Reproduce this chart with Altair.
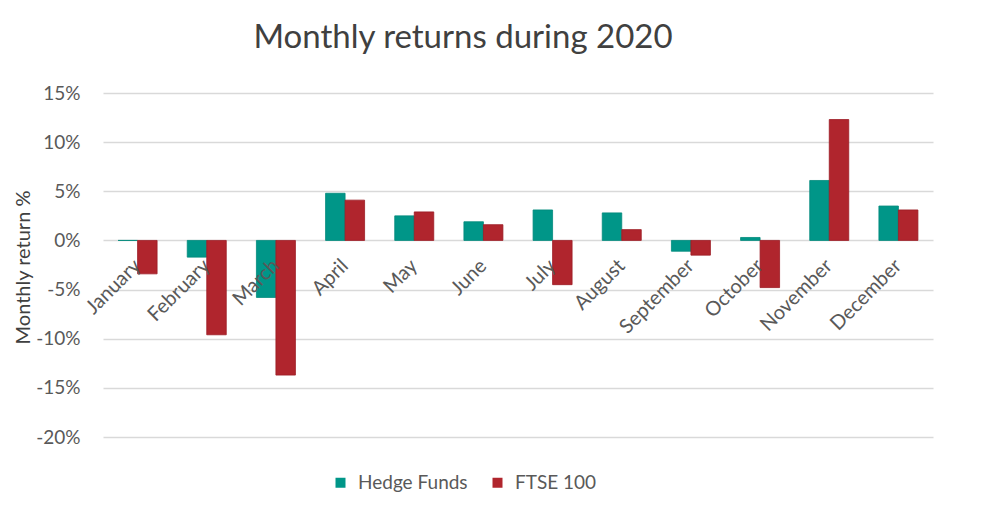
import altair as alt
import pandas as pd

months = ["January", "February", "March", "April", "May", "June", "July",
          "August", "September", "October", "November", "December"]
hedge_funds = [0.0, -1.7, -5.8, 4.8, 2.5, 1.9, 3.1, 2.8, -1.1, 0.3, 6.1, 3.5]
ftse_100 = [-3.4, -9.6, -13.7, 4.1, 2.9, 1.6, -4.5, 1.1, -1.5, -4.8, 12.3, 3.1]
series = ["Hedge Funds", "FTSE 100"]
colors = ["#009688", "#B0252D"]
y_ticks = [-20, -15, -10, -5, 0, 5, 10, 15]

rows = []
for m, h, f in zip(months, hedge_funds, ftse_100):
    rows.append({"Month": m, "Series": series[0], "Return": h})
    rows.append({"Month": m, "Series": series[1], "Return": f})
df = pd.DataFrame(rows)

W, H = 830, 344
FONT = "Lato"

chart = alt.Chart(df).mark_bar(strokeWidth=0.8).encode(
    x=alt.X("Month:N", sort=months,
            scale=alt.Scale(paddingInner=0.436, paddingOuter=0.218),
            axis=alt.Axis(title=None, labelAngle=315, labelAlign="right",
                          labelBaseline="middle", labelPadding=22,
                          domain=False, ticks=False, offset=-(H * 20 / 35),
                          zindex=1, labelFont=FONT, labelFontSize=20,
                          labelColor="#595959")),
    xOffset=alt.XOffset("Series:N", sort=series),
    y=alt.Y("Return:Q",
            scale=alt.Scale(domain=[-20, 15], nice=False),
            axis=alt.Axis(values=y_ticks, labelExpr="datum.value + '%'",
                          title="Monthly return %", titleFont=FONT, titleFontSize=20,
                          titleFontWeight="normal", titleColor="#404040",
                          titleAngle=270, titleX=-80, titleY=H / 2 + 2,
                          titleAlign="center", titleBaseline="middle",
                          domain=False, ticks=False, labelPadding=23,
                          labelFont=FONT, labelFontSize=19, labelColor="#595959",
                          gridColor="#d9d9d9", gridWidth=1.5)),
    color=alt.Color("Series:N", sort=series,
                    scale=alt.Scale(domain=series, range=colors),
                    legend=alt.Legend(title=None, orient="none", legendX=228, legendY=380,
                                      direction="horizontal", symbolType="square",
                                      symbolSize=100, symbolStrokeWidth=0,
                                      labelFont=FONT, labelFontSize=19, labelOffset=8,
                                      labelColor="#595959", columnPadding=20)),
    stroke=alt.Stroke("Series:N", sort=series,
                      scale=alt.Scale(domain=series, range=["#00897b", "#9c1c24"]),
                      legend=None),
).properties(
    width=W, height=H,
    title=alt.TitleParams("Monthly returns during 2020", font=FONT, fontSize=33,
                          fontWeight="normal", color="#404040", anchor="middle",
                          dx=-55, offset=29),
    autosize=alt.AutoSizeParams(type="none"),
    padding={"left": 95, "top": 85, "right": 40, "bottom": 80},
).configure_view(stroke=None)

chart.save("out.html", embed_options={"renderer": "svg", "actions": False})
